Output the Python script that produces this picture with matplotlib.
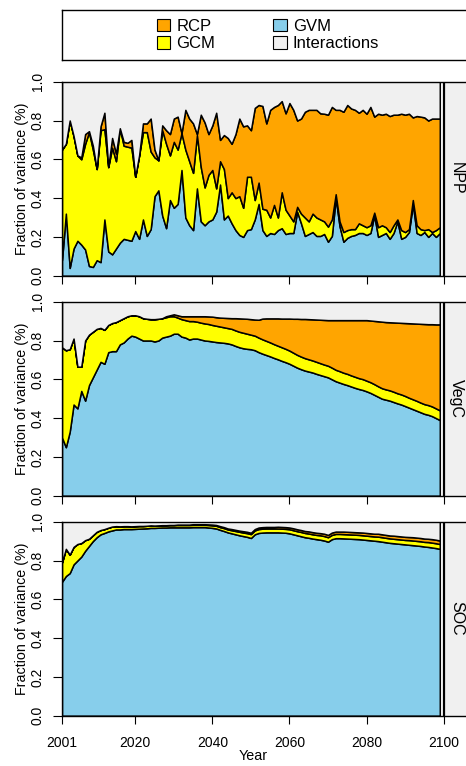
import numpy as np
import matplotlib
matplotlib.use('Agg')
import matplotlib.pyplot as plt
from matplotlib.patches import Patch

plt.rcParams['font.family'] = ['Liberation Sans', 'DejaVu Sans']

years = np.arange(2001, 2100)

# Fracciones de varianza (una por año, 2001-2099)
npp_gvm = [0.08, 0.32, 0.04, 0.14, 0.18, 0.16, 0.135, 0.05, 0.045, 0.08,
           0.07, 0.29, 0.125, 0.11, 0.14, 0.17, 0.19, 0.185, 0.18, 0.23,
           0.19, 0.29, 0.205, 0.24, 0.41, 0.44, 0.31, 0.245, 0.39, 0.35,
           0.37, 0.545, 0.30, 0.26, 0.235, 0.45, 0.28, 0.26, 0.28, 0.29,
           0.33, 0.47, 0.29, 0.31, 0.27, 0.235, 0.21, 0.20, 0.235, 0.24,
           0.29, 0.37, 0.235, 0.205, 0.22, 0.215, 0.235, 0.245, 0.215, 0.22,
           0.22, 0.33, 0.27, 0.205, 0.215, 0.225, 0.205, 0.205, 0.215, 0.175,
           0.205, 0.40, 0.255, 0.175, 0.195, 0.205, 0.21, 0.22, 0.22, 0.21,
           0.22, 0.31, 0.20, 0.21, 0.22, 0.19, 0.22, 0.28, 0.19, 0.20,
           0.225, 0.37, 0.22, 0.21, 0.225, 0.20, 0.22, 0.20, 0.22]
npp_gcm = [0.57, 0.36, 0.76, 0.58, 0.44, 0.44, 0.545, 0.69, 0.605, 0.47,
           0.68, 0.465, 0.435, 0.55, 0.45, 0.59, 0.48, 0.48, 0.48, 0.28,
           0.43, 0.45, 0.535, 0.40, 0.20, 0.155, 0.44, 0.435, 0.23, 0.34,
           0.28, 0.19, 0.35, 0.33, 0.295, 0.275, 0.28, 0.195, 0.24, 0.255,
           0.12, 0.12, 0.26, 0.09, 0.16, 0.165, 0.20, 0.15, 0.275, 0.27,
           0.10, 0.11, 0.11, 0.135, 0.08, 0.15, 0.065, 0.185, 0.125, 0.09,
           0.06, 0.025, 0.05, 0.095, 0.065, 0.095, 0.095, 0.085, 0.065, 0.078,
           0.085, 0.02, 0.025, 0.05, 0.04, 0.035, 0.03, 0.05, 0.04, 0.04,
           0.04, 0.015, 0.05, 0.05, 0.03, 0.035, 0.04, 0.01, 0.045, 0.025,
           0.015, 0.02, 0.04, 0.03, 0.01, 0.04, 0.005, 0.035, 0.03]
npp_rcp = [0, 0, 0, 0, 0, 0.01, 0.05, 0.005, 0.02, 0,
           0.02, 0.085, 0, 0.05, 0.04, 0, 0.02, 0.02, 0.04, 0,
           0, 0.045, 0.045, 0.17, 0.04, 0, 0.025, 0.07, 0.11, 0.12,
           0.17, 0, 0.205, 0.22, 0.255, 0.005, 0.27, 0.335, 0.21, 0.23,
           0.39, 0.11, 0.175, 0.31, 0.25, 0.33, 0.40, 0.42, 0.265, 0.24,
           0.475, 0.40, 0.53, 0.445, 0.555, 0.505, 0.58, 0.47, 0.497, 0.58,
           0.575, 0.445, 0.49, 0.545, 0.575, 0.535, 0.555, 0.547, 0.555, 0.577,
           0.58, 0.435, 0.575, 0.62, 0.645, 0.622, 0.615, 0.57, 0.595, 0.585,
           0.61, 0.495, 0.585, 0.57, 0.585, 0.598, 0.57, 0.54, 0.60, 0.605,
           0.595, 0.426, 0.563, 0.58, 0.581, 0.56, 0.585, 0.575, 0.56]

vegc_gvm = [0.30, 0.25, 0.33, 0.47, 0.45, 0.54, 0.49, 0.57, 0.61, 0.65,
            0.69, 0.68, 0.74, 0.745, 0.745, 0.78, 0.79, 0.81, 0.825, 0.82,
            0.81, 0.80, 0.80, 0.80, 0.795, 0.80, 0.815, 0.82, 0.825, 0.835,
            0.835, 0.82, 0.815, 0.805, 0.81, 0.81, 0.805, 0.80, 0.798, 0.795,
            0.792, 0.79, 0.788, 0.785, 0.78, 0.772, 0.765, 0.76, 0.757, 0.755,
            0.75, 0.74, 0.732, 0.725, 0.718, 0.71, 0.703, 0.695, 0.688, 0.68,
            0.67, 0.66, 0.652, 0.645, 0.64, 0.635, 0.628, 0.622, 0.616, 0.61,
            0.60, 0.59, 0.583, 0.576, 0.57, 0.563, 0.556, 0.55, 0.545, 0.538,
            0.53, 0.52, 0.51, 0.50, 0.495, 0.49, 0.483, 0.476, 0.47, 0.462,
            0.454, 0.446, 0.438, 0.43, 0.422, 0.417, 0.41, 0.40, 0.39]
vegc_gcm = [0.465, 0.50, 0.425, 0.34, 0.215, 0.125, 0.31, 0.26, 0.235, 0.21,
            0.175, 0.175, 0.14, 0.145, 0.15, 0.125, 0.125, 0.115, 0.105, 0.11,
            0.115, 0.115, 0.112, 0.11, 0.115, 0.112, 0.10, 0.10, 0.10, 0.09,
            0.083, 0.09, 0.09, 0.095, 0.09, 0.087, 0.087, 0.088, 0.087, 0.085,
            0.084, 0.082, 0.08, 0.079, 0.08, 0.08, 0.08, 0.08, 0.078, 0.075,
            0.075, 0.075, 0.074, 0.073, 0.072, 0.071, 0.07, 0.07, 0.069, 0.068,
            0.067, 0.066, 0.065, 0.064, 0.063, 0.062, 0.062, 0.061, 0.06, 0.06,
            0.06, 0.059, 0.059, 0.058, 0.058, 0.057, 0.057, 0.056, 0.056, 0.055,
            0.055, 0.055, 0.054, 0.054, 0.053, 0.053, 0.053, 0.052, 0.052, 0.052,
            0.051, 0.051, 0.051, 0.05, 0.05, 0.05, 0.05, 0.05, 0.05]
vegc_rcp = [0, 0, 0, 0, 0, 0, 0, 0, 0, 0,
            0, 0, 0, 0, 0, 0, 0, 0, 0, 0,
            0, 0, 0, 0, 0, 0, 0, 0.005, 0.005, 0.01,
            0.012, 0.015, 0.02, 0.025, 0.025, 0.028, 0.033, 0.037, 0.039, 0.043,
            0.044, 0.046, 0.049, 0.052, 0.055, 0.063, 0.069, 0.073, 0.077, 0.08,
            0.083, 0.092, 0.107, 0.116, 0.124, 0.133, 0.141, 0.148, 0.156, 0.165,
            0.175, 0.186, 0.194, 0.202, 0.207, 0.212, 0.218, 0.224, 0.23, 0.235,
            0.245, 0.256, 0.263, 0.271, 0.277, 0.285, 0.292, 0.299, 0.304, 0.312,
            0.318, 0.326, 0.335, 0.343, 0.347, 0.351, 0.357, 0.364, 0.369, 0.376,
            0.384, 0.391, 0.398, 0.406, 0.413, 0.417, 0.424, 0.433, 0.443]

soc_gvm = [0.69, 0.72, 0.735, 0.78, 0.80, 0.82, 0.85, 0.875, 0.90, 0.92,
           0.935, 0.942, 0.95, 0.955, 0.96, 0.96, 0.962, 0.962, 0.962, 0.963,
           0.964, 0.965, 0.966, 0.968, 0.968, 0.969, 0.97, 0.97, 0.971, 0.971,
           0.971, 0.971, 0.971, 0.971, 0.972, 0.972, 0.972, 0.972, 0.97, 0.968,
           0.965, 0.958, 0.952, 0.945, 0.94, 0.935, 0.93, 0.926, 0.922, 0.916,
           0.935, 0.942, 0.944, 0.945, 0.945, 0.945, 0.945, 0.944, 0.943, 0.94,
           0.935, 0.93, 0.925, 0.92, 0.917, 0.913, 0.91, 0.907, 0.903, 0.897,
           0.91, 0.915, 0.915, 0.914, 0.913, 0.912, 0.911, 0.91, 0.908, 0.906,
           0.904, 0.902, 0.90, 0.897, 0.894, 0.891, 0.889, 0.887, 0.885, 0.883,
           0.881, 0.879, 0.877, 0.875, 0.872, 0.87, 0.867, 0.864, 0.86]
soc_gcm = [0.10, 0.14, 0.095, 0.09, 0.085, 0.07, 0.055, 0.037, 0.03, 0.028,
           0.022, 0.02, 0.019, 0.02, 0.017, 0.016, 0.015, 0.015, 0.014, 0.014,
           0.014, 0.013, 0.013, 0.013, 0.012, 0.012, 0.012, 0.012, 0.012, 0.012,
           0.012, 0.012, 0.012, 0.012, 0.012, 0.012, 0.012, 0.012, 0.013, 0.013,
           0.014, 0.014, 0.015, 0.015, 0.016, 0.017, 0.018, 0.018, 0.019, 0.02,
           0.02, 0.02, 0.02, 0.02, 0.02, 0.02, 0.02, 0.02, 0.02, 0.021,
           0.021, 0.021, 0.022, 0.022, 0.022, 0.022, 0.022, 0.023, 0.023, 0.023,
           0.022, 0.022, 0.022, 0.022, 0.022, 0.022, 0.022, 0.022, 0.022, 0.022,
           0.022, 0.022, 0.023, 0.023, 0.023, 0.023, 0.023, 0.023, 0.023, 0.023,
           0.024, 0.024, 0.024, 0.024, 0.024, 0.025, 0.025, 0.025, 0.025]
soc_rcp = [0, 0, 0, 0, 0, 0, 0, 0, 0, 0,
           0, 0, 0, 0, 0, 0, 0, 0, 0, 0,
           0, 0, 0, 0, 0, 0, 0, 0, 0, 0,
           0.002, 0.002, 0.002, 0.002, 0.003, 0.003, 0.003, 0.003, 0.003, 0.004,
           0.004, 0.005, 0.005, 0.005, 0.006, 0.006, 0.006, 0.007, 0.007, 0.007,
           0.007, 0.008, 0.008, 0.008, 0.008, 0.008, 0.009, 0.009, 0.009, 0.009,
           0.01, 0.01, 0.01, 0.01, 0.011, 0.011, 0.011, 0.011, 0.012, 0.012,
           0.012, 0.012, 0.012, 0.013, 0.013, 0.013, 0.013, 0.013, 0.014, 0.014,
           0.014, 0.014, 0.015, 0.015, 0.015, 0.015, 0.016, 0.016, 0.016, 0.016,
           0.016, 0.017, 0.017, 0.017, 0.017, 0.017, 0.018, 0.018, 0.018]

paneles = ['NPP', 'VegC', 'SOC']
fuentes = ['RCP', 'GCM', 'GVM', 'Interactions']
colores = {'RCP': '#FFA500', 'GCM': '#FFFF00', 'GVM': '#87CEEB', 'Interactions': '#F0F0F0'}
xticks = [2001, 2020, 2040, 2060, 2080, 2100]
yticks = [0.0, 0.2, 0.4, 0.6, 0.8, 1.0]

X_MAX = 2105.8
W, H = 466, 766


def dibujar_panel(ax, gvm, gcm, rcp, nombre, etiquetas_x):
    gvm, gcm, rcp = np.asarray(gvm), np.asarray(gcm), np.asarray(rcp)
    inter = 1 - gvm - gcm - rcp
    ax.stackplot(years, gvm, gcm, rcp, inter,
                 colors=[colores['GVM'], colores['GCM'], colores['RCP'], colores['Interactions']],
                 edgecolor='black', linewidth=1.1)
    # franja gris con el nombre de la variable
    ax.axvspan(2100, X_MAX, color=colores['Interactions'], lw=0)
    ax.axvline(2100, color='black', lw=1.6)
    ax.text(2103.4, 0.5, nombre, rotation=270, ha='center', va='center', fontsize=11.5)

    ax.set_xlim(2001, X_MAX)
    ax.set_ylim(0, 1)
    ax.spines['right'].set_visible(False)
    for s in ['left', 'top', 'bottom']:
        ax.spines[s].set_linewidth(1.0)
    ax.set_xticks(xticks)
    ax.set_yticks(yticks)
    ax.set_yticklabels([f'{v:.1f}' for v in yticks], rotation=90, va='center')
    ax.tick_params(axis='y', length=6.7, width=0.8, labelsize=10, pad=5.8)
    ax.tick_params(axis='x', length=5.5, width=0.8, labelsize=10, pad=8.9)
    if not etiquetas_x:
        ax.set_xticklabels([])
    ax.set_ylabel('Fraction of variance (%)', fontsize=10.3, labelpad=1)


fig = plt.figure(figsize=(W / 100, H / 100), dpi=100)

# recuadro de la leyenda
ax_leg = fig.add_axes([62 / W, 1 - 60 / H, 1 - 62 / W, 50 / H])
ax_leg.set_xticks([])
ax_leg.set_yticks([])
for s in ax_leg.spines.values():
    s.set_linewidth(1.0)
ax_leg.spines['right'].set_visible(False)
handles = [Patch(facecolor=colores[f], edgecolor='black', linewidth=0.8) for f in fuentes]
ax_leg.legend(handles, fuentes, loc='center', bbox_to_anchor=(0.51, 0.5), ncol=2,
              frameon=False, fontsize=12, handlelength=0.8, handleheight=0.8,
              handletextpad=0.37, columnspacing=3.5, labelspacing=0.15, borderpad=0)

tops = [81.7, 301.7, 521.7]
datos = [(npp_gvm, npp_gcm, npp_rcp), (vegc_gvm, vegc_gcm, vegc_rcp), (soc_gvm, soc_gcm, soc_rcp)]
for i, (nombre, top, d) in enumerate(zip(paneles, tops, datos)):
    ax = fig.add_axes([62 / W, 1 - (top + 194) / H, 1 - 62 / W, 194 / H])
    dibujar_panel(ax, *d, nombre, etiquetas_x=(i == 2))
    if i == 2:
        ax.set_xlabel('Year', fontsize=10.3, labelpad=0)
        ax.xaxis.set_label_coords((2050.5 - 2001) / (X_MAX - 2001), -0.17)

fig.savefig('out.png', dpi=100)
